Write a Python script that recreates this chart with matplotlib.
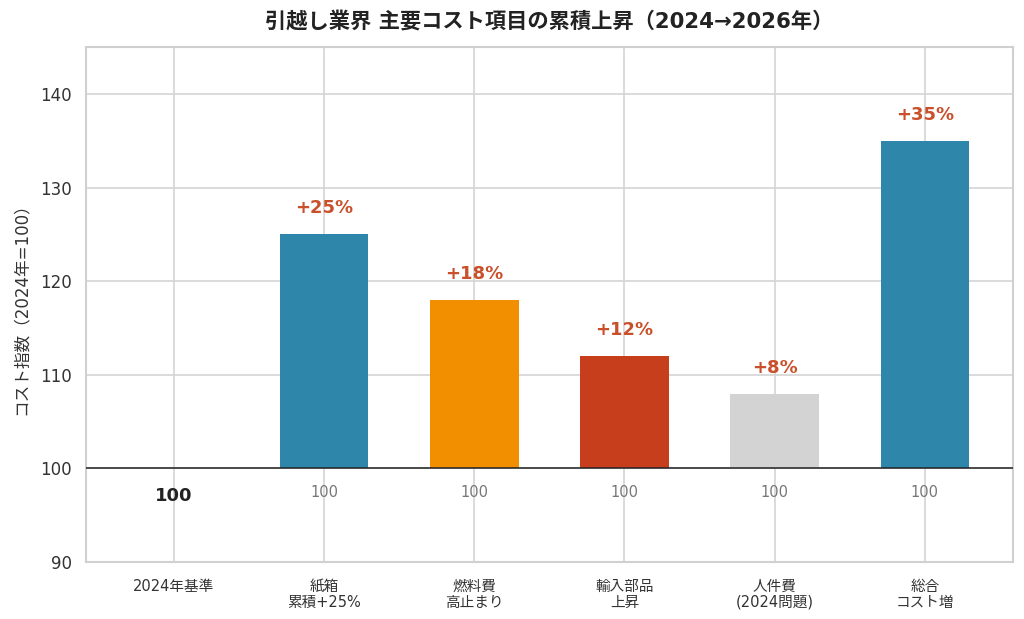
import numpy as np
import matplotlib
matplotlib.use("Agg")
import matplotlib.pyplot as plt

plt.rcParams['font.family'] = ['DejaVu Sans', 'Noto Sans CJK JP']

# data
categories = ["2024年基準", "紙箱\n累積+25%", "燃料費\n高止まり", "輸入部品\n上昇", "人件費\n(2024問題)", "総合\nコスト増"]
values = [100, 125, 118, 112, 108, 135]
colors = ["#2E86AB", "#2E86AB", "#F18F01", "#C73E1D", "#D3D3D3", "#2E86AB"]
base = 100

fig = plt.figure(figsize=(10.24, 6.19), dpi=100)
ax = fig.add_axes([0.084, 0.092, 0.905, 0.832])

x = np.arange(len(categories))
heights = [v - base for v in values]
ax.bar(x, heights, bottom=base, width=0.59, color=colors, zorder=3)
ax.axhline(base, color="#222222", linewidth=1.1, zorder=4)

for i, v in enumerate(values):
    if i == 0:
        ax.text(i, base - 2.9, str(base), ha="center", va="center",
                fontsize=13, fontweight="bold", color="#222222", zorder=5)
    else:
        ax.text(i, base - 2.6, str(base), ha="center", va="center",
                fontsize=10.5, color="#777777", zorder=5)
        ax.text(i, v + 1.8, "+%d%%" % (v - base), ha="center", va="bottom",
                fontsize=13, fontweight="bold", color="#C9502A", zorder=5)

ax.set_xlim(-0.585, 5.585)
ax.set_ylim(90, 145)
ax.set_yticks([90, 100, 110, 120, 130, 140])
ax.set_xticks(x)
ax.set_xticklabels(categories, fontsize=10.5, color="#333333", linespacing=1.1)
ax.tick_params(axis="y", labelsize=12, colors="#333333", length=0, pad=10)
ax.tick_params(axis="x", length=0, pad=12)
ax.grid(True, color="#d4d4d4", linewidth=1.2, zorder=0)
ax.set_axisbelow(True)
for s in ax.spines.values():
    s.set_color("#d0d0d0")
    s.set_linewidth(1.5)

ax.set_ylabel("コスト指数（2024年=100）", fontsize=12, color="#333333", labelpad=8)
ax.set_title("引越し業界 主要コスト項目の累積上昇（2024→2026年）", fontsize=15.3,
             fontweight="bold", color="#222222", pad=14)

fig.savefig("out.png", dpi=100, facecolor="white")
